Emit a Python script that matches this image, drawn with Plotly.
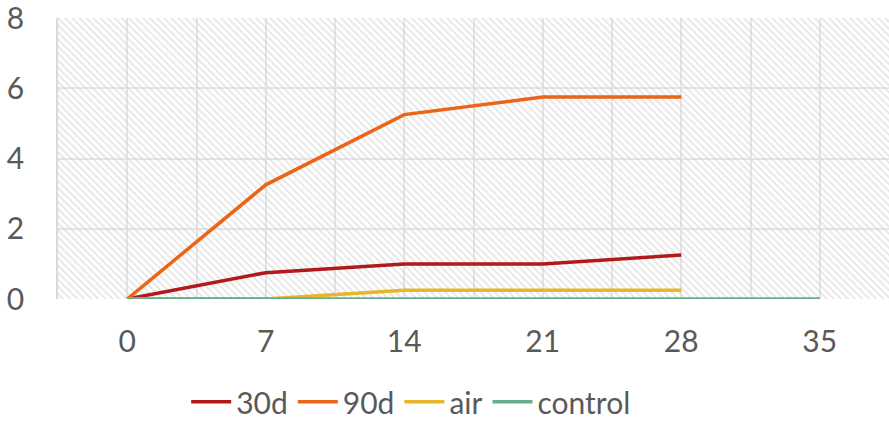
import plotly.graph_objects as go

days = [0, 7, 14, 21, 28, 35]
s30d = [0, 0.75, 1.0, 1.0, 1.25]
s90d = [0, 3.25, 5.25, 5.75, 5.75]
air = [0, 0, 0.25, 0.25, 0.25]
control = [0, 0, 0, 0, 0, 0]

names = ["30d", "90d", "air", "control"]
series = [s30d, s90d, air, control]
colors = ["#B2191B", "#EA6516", "#E8B629", "#68AE8E"]

xr = [-3.5, 38.5]
yr = [0, 8]

fig = go.Figure()
# hatched plot background
fig.add_trace(go.Scatter(
    x=[xr[0], xr[1], xr[1], xr[0], xr[0]], y=[yr[0], yr[0], yr[1], yr[1], yr[0]],
    fill="toself", mode="none", fillcolor="rgba(0,0,0,0)",
    fillpattern=dict(shape="\\", fgcolor="#cfcfcf", bgcolor="rgba(0,0,0,0)", size=5, solidity=0.4),
    showlegend=False, hoverinfo="skip"))

for n, s, c in zip(names, series, colors):
    fig.add_trace(go.Scatter(x=days[:len(s)], y=s, name=n, mode="lines",
                             line=dict(color=c, width=3.5)))

fnt = dict(family="Lato, sans-serif", size=30, color="#595959")
fig.update_layout(
    width=889, height=423,
    margin=dict(l=58, r=0, t=18, b=124),
    plot_bgcolor="white", paper_bgcolor="white",
    font=fnt,
    legend=dict(orientation="h", x=0.425, xanchor="center", yref="container",
                y=0.05, yanchor="middle",
                font=fnt, itemwidth=40, tracegroupgap=0),
    xaxis=dict(range=xr, tickvals=days, showgrid=True, gridcolor="#e6e6e6", gridwidth=1.5,
               minor=dict(dtick=3.5, tick0=0, showgrid=True, gridcolor="#e6e6e6", gridwidth=1.5),
               zeroline=False, showline=False, ticks="", ticklabelstandoff=22, tickfont=fnt,
               automargin=False, ticklabeloverflow="allow"),
    yaxis=dict(range=yr, dtick=2, showgrid=True, gridcolor="#e6e6e6", gridwidth=1.5,
               zeroline=False, showline=True, linecolor="#dadada", linewidth=1.5, mirror=False,
               ticks="", ticklabelstandoff=26, tickfont=fnt, automargin=False,
               ticklabeloverflow="allow"),
)
fig.write_html("out.html", config={"displayModeBar": False},
               post_script="document.body.style.margin='0';document.body.style.overflow='hidden';")
